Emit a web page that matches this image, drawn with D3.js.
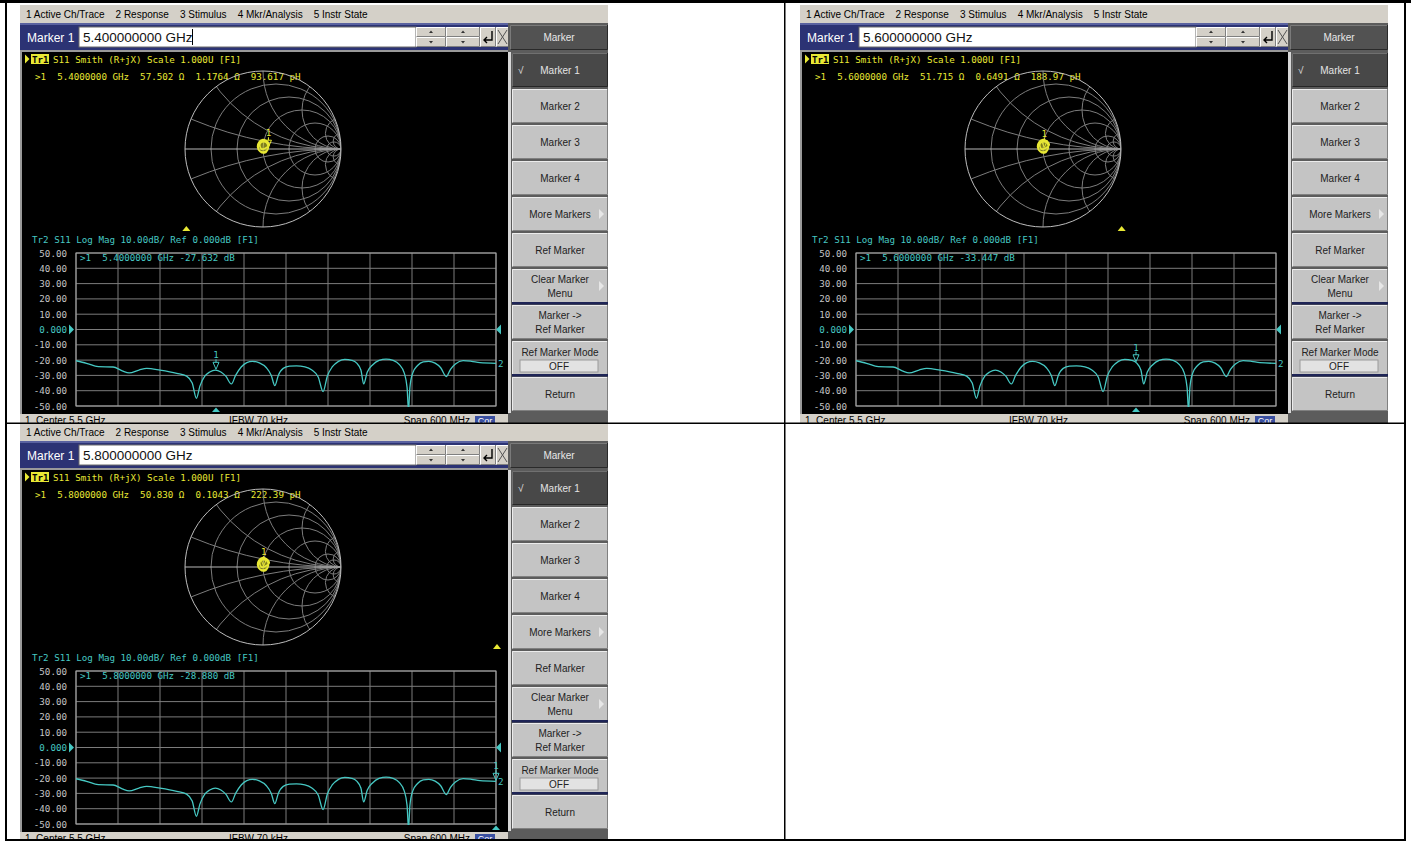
<!DOCTYPE html>
<meta charset="utf-8">
<style>
    body { margin: 0; background: #fff; }
    svg text { font-family: "Liberation Sans", Arial, sans-serif; }
    svg text.mono { font-family: "DejaVu Sans Mono", monospace; font-size: 9.2px; }
</style>
<body>
<svg width="1411" height="841"></svg>
<script src="https://d3js.org/d3.v7.min.js"></script>
<script>
    // ---- data ----
    const menuItems = ["1 Active Ch/Trace", "2 Response", "3 Stimulus", "4 Mkr/Analysis", "5 Instr State"];
    const softkeys = [["Marker 1"], ["Marker 2"], ["Marker 3"], ["Marker 4"], ["More Markers"], ["Ref Marker"],
        ["Clear Marker", "Menu"], ["Marker ->", "Ref Marker"], ["Ref Marker Mode"], ["Return"]];
    const yTicks = [50, 40, 30, 20, 10, 0, -10, -20, -30, -40, -50];

    // S11 log mag trace (same sweep in all three captures)
    const freqGHz = [5.200, 5.215, 5.232, 5.253, 5.266, 5.276, 5.290, 5.301, 5.320, 5.344, 5.358, 5.366, 5.372,
        5.377, 5.384, 5.391, 5.399, 5.407, 5.414, 5.422, 5.428, 5.436, 5.444, 5.452, 5.462, 5.472, 5.479, 5.484,
        5.489, 5.496, 5.505, 5.515, 5.527, 5.537, 5.546, 5.553, 5.559, 5.566, 5.575, 5.584, 5.594, 5.601, 5.607,
        5.611, 5.616, 5.624, 5.633, 5.643, 5.653, 5.662, 5.669, 5.673, 5.675, 5.677, 5.681, 5.688, 5.696, 5.704,
        5.713, 5.721, 5.729, 5.735, 5.742, 5.753, 5.765, 5.777, 5.800];
    const s11dB = [-20.4, -22.1, -24.3, -24.5, -27.0, -28.4, -26.5, -25.4, -26.5, -28.6, -30.5, -35.0, -45.0,
        -37.0, -30.5, -27.8, -26.5, -27.8, -30.5, -35.6, -30.0, -24.5, -21.6, -20.8, -21.8, -25.0, -30.0, -36.7,
        -30.0, -25.4, -24.0, -23.8, -24.4, -26.5, -31.0, -40.6, -30.5, -24.5, -20.8, -19.5, -20.2, -22.0, -26.5,
        -35.6, -28.0, -23.0, -20.2, -19.3, -20.2, -23.0, -28.5, -38.0, -53.0, -38.0, -28.5, -23.5, -21.2, -20.8,
        -22.0, -25.0, -30.8, -26.0, -22.5, -20.3, -20.8, -21.7, -22.1];

    // Smith trace blob near the centre (reflection coefficient, re / im)
    const smithRe = [0.08, 0.05, 0.00, -0.05, -0.07, -0.04, 0.02, 0.06, 0.07, 0.03, -0.03, -0.06, -0.05, 0.00, 0.05, 0.07, 0.05, 0.01, -0.04, -0.02, 0.03];
    const smithIm = [0.05, 0.10, 0.12, 0.09, 0.03, -0.03, -0.05, -0.01, 0.05, 0.09, 0.08, 0.03, -0.02, -0.04, -0.02, 0.03, 0.08, 0.11, 0.06, 0.00, 0.01];

    // one entry per capture
    const markerFreq = [5.4, 5.6, 5.8];
    const markerR = [57.502, 51.715, 50.830];
    const markerX = [1.1764, 0.6491, 0.1043];
    const markerL = [93.617, 188.97, 222.39];
    const markerDB = [-27.632, -33.447, -28.880];

    const panelX = [0, 780, 0],
        panelY = [0, 0, 418];

    const yellow = "#e8e834",
        cyan = "#46c8c3",
        gridCol = "#7c7c7c";

    const svg = d3.select("svg");
    svg.append("rect").attr("width", 1411).attr("height", 841).attr("fill", "#fff");

    const defs = svg.append("defs");
    defs.append("clipPath").attr("id", "cell").append("rect")
        .attr("x", 8).attr("y", 3).attr("width", 612).attr("height", 420);
    defs.append("clipPath").attr("id", "gridclip").append("rect")
        .attr("x", 76).attr("y", 253).attr("width", 421).attr("height", 154);
    defs.append("clipPath").attr("id", "smithclip").append("circle").attr("r", 78);

    const x = d3.scaleLinear().domain([5.2, 5.8]).range([76, 496]);
    const y = d3.scaleLinear().domain([-50, 50]).range([406, 253]);
    const xStim = d3.scaleLinear().domain([5.2, 5.8]).range([31, 497]);
    const gx = d3.scaleLinear().domain([-1, 1]).range([-78, 78]);
    const gy = d3.scaleLinear().domain([-1, 1]).range([78, -78]);
    const fmtL = d3.format(".5");

    function traceAt(f) {
        let i = d3.bisectLeft(freqGHz, f);
        i = Math.max(1, Math.min(freqGHz.length - 1, i));
        const t = (f - freqGHz[i - 1]) / (freqGHz[i] - freqGHz[i - 1]);
        return s11dB[i - 1] + t * (s11dB[i] - s11dB[i - 1]);
    }

    function bevel(g, bx, by, bw, bh, fill, light, dark) {
        g.append("rect").attr("x", bx).attr("y", by).attr("width", bw).attr("height", bh).attr("fill", fill);
        g.append("path").attr("d", `M${bx + 0.5},${by + bh}V${by + 0.5}H${bx + bw}`)
            .attr("stroke", light).attr("fill", "none");
        g.append("path").attr("d", `M${bx + 0.5},${by + bh - 0.5}H${bx + bw - 0.5}V${by}`)
            .attr("stroke", dark).attr("fill", "none");
    }

    function markerSymbol(g, px, py, col) {
        g.append("path")
            .attr("d", `M${px - 3},${py - 8}H${px + 3}L${px},${py - 1}Z M${px},${py - 8}V${py - 11}`)
            .attr("stroke", col).attr("fill", "none").attr("stroke-width", 1);
        g.append("text").attr("class", "mono").attr("x", px).attr("y", py - 12)
            .attr("text-anchor", "middle").attr("fill", col).text("1");
    }

    function drawPanel(i) {
        const p = svg.append("g")
            .attr("transform", `translate(${panelX[i]},${panelY[i]})`)
            .append("g").attr("clip-path", "url(#cell)");

        // menu bar
        p.append("rect").attr("x", 20).attr("y", 5).attr("width", 588).attr("height", 18).attr("fill", "#d4d0c8");
        let mx = 26;
        menuItems.forEach(m => {
            const t = p.append("text").attr("x", mx).attr("y", 17.5).attr("font-size", 10).attr("fill", "#000").text(m);
            mx += t.node().getComputedTextLength() + 11;
        });

        // entry row
        p.append("rect").attr("x", 20).attr("y", 23).attr("width", 490).attr("height", 27).attr("fill", "#2c3374");
        p.append("rect").attr("x", 20).attr("y", 23).attr("width", 490).attr("height", 2).attr("fill", "#5a62a0");
        p.append("text").attr("x", 27).attr("y", 41.5).attr("font-size", 12).attr("fill", "#fff").text("Marker 1");
        p.append("rect").attr("x", 79).attr("y", 27).attr("width", 337).attr("height", 20)
            .attr("fill", "#fff").attr("stroke", "#6a6a6a");
        p.append("text").attr("x", 83).attr("y", 42).attr("font-size", 13.5).attr("fill", "#111")
            .text(markerFreq[i].toFixed(9) + " GHz");
        if (i === 0) {
            p.append("line").attr("x1", 192.5).attr("x2", 192.5).attr("y1", 29).attr("y2", 45).attr("stroke", "#000");
        }
        // spin / enter / cancel buttons
        [[416, 30], [446, 34]].forEach(([bx, bw]) => {
            bevel(p, bx, 27, bw, 10, "#d4d0c8", "#fff", "#808080");
            bevel(p, bx, 37, bw, 10, "#d4d0c8", "#fff", "#808080");
            const c = bx + bw / 2;
            p.append("path").attr("d", `M${c - 2},${33}L${c},${30.5}L${c + 2},${33}Z M${c - 2},${41}L${c},${43.5}L${c + 2},${41}Z`)
                .attr("fill", "#333");
        });
        bevel(p, 480, 27, 16, 20, "#d4d0c8", "#fff", "#808080");
        p.append("path").attr("d", "M492,31V40H484 M487,37L484,40L487,43").attr("stroke", "#000")
            .attr("stroke-width", 1.4).attr("fill", "none");
        bevel(p, 496, 27, 13, 20, "#d4d0c8", "#fff", "#808080");
        p.append("path").attr("d", "M498,30L507,44 M507,30L498,44").attr("stroke", "#555").attr("fill", "none");

        // display
        p.append("rect").attr("x", 20).attr("y", 50).attr("width", 490).attr("height", 364).attr("fill", "#9a9a9a");
        p.append("rect").attr("x", 22).attr("y", 52).attr("width", 486).attr("height", 362).attr("fill", "#000");

        // ---- Tr1 Smith ----
        p.append("path").attr("d", "M25,54.5L29.5,59L25,63.5Z").attr("fill", yellow);
        p.append("rect").attr("x", 31).attr("y", 54).attr("width", 18).attr("height", 10).attr("fill", yellow);
        p.append("text").attr("class", "mono").attr("x", 32).attr("y", 62.5).attr("fill", "#000")
            .attr("font-weight", "bold").text("Tr1");
        p.append("text").attr("class", "mono").attr("x", 53).attr("y", 62.5).attr("fill", yellow)
            .text("S11 Smith (R+jX) Scale 1.000U [F1]");
        p.append("text").attr("class", "mono").attr("x", 35).attr("y", 80).attr("fill", yellow).attr("xml:space", "preserve")
            .text(`>1  ${markerFreq[i].toFixed(7)} GHz  ${markerR[i].toFixed(3)} Ω  ${markerX[i].toFixed(4)} Ω  ${fmtL(markerL[i])} pH`);

        const s = p.append("g").attr("transform", "translate(263,149)");
        const sg = s.append("g").attr("clip-path", "url(#smithclip)")
            .attr("fill", "none").attr("stroke", gridCol).attr("stroke-width", 1);
        [0.2, 0.5, 1, 2, 5, 10].forEach(r => {
            sg.append("circle").attr("cx", gx(r / (1 + r))).attr("cy", 0).attr("r", gx(1 / (1 + r)) - gx(0));
        });
        [0.2, 0.5, 1, 2, 5, 10, -0.2, -0.5, -1, -2, -5, -10].forEach(xv => {
            sg.append("circle").attr("cx", gx(1)).attr("cy", gy(1 / xv)).attr("r", gx(1 / Math.abs(xv)) - gx(0));
        });
        s.append("line").attr("x1", gx(-1)).attr("x2", gx(1)).attr("stroke", "#b8b8b8");
        s.append("circle").attr("r", 78).attr("fill", "none").attr("stroke", "#bdbdbd");

        const blob = d3.line().x(d => gx(d[0])).y(d => gy(d[1])).curve(d3.curveCardinalClosed);
        s.append("path").attr("d", blob(d3.zip(smithRe, smithIm)))
            .attr("fill", "rgba(232,232,52,0.55)").attr("stroke", yellow).attr("stroke-width", 1.6);
        // marker reflection coefficient from R + jX (Z0 = 50)
        const zr = markerR[i] / 50, zi = markerX[i] / 50;
        const den = (zr + 1) * (zr + 1) + zi * zi;
        const gr = ((zr - 1) * (zr + 1) + zi * zi) / den, gi = (2 * zi) / den;
        markerSymbol(s, gx(gr), gy(gi), yellow);

        const tx = xStim(markerFreq[i]);
        p.append("path").attr("d", `M${tx - 4},231L${tx},226L${tx + 4},231Z`).attr("fill", yellow);

        // ---- Tr2 Log Mag ----
        p.append("text").attr("class", "mono").attr("x", 32).attr("y", 243).attr("fill", cyan)
            .text("Tr2 S11 Log Mag 10.00dB/ Ref 0.000dB [F1]");

        const gg = p.append("g").attr("stroke", gridCol).attr("stroke-width", 1);
        gg.selectAll("line.h").data(yTicks).join("line")
            .attr("x1", x(5.2)).attr("x2", x(5.8)).attr("y1", d => y(d)).attr("y2", d => y(d));
        gg.selectAll("line.v").data(d3.range(5.2, 5.8001, 0.06)).join("line")
            .attr("x1", d => x(d)).attr("x2", d => x(d)).attr("y1", y(50)).attr("y2", y(-50));
        p.append("rect").attr("x", x(5.2)).attr("y", y(50)).attr("width", x(5.8) - x(5.2)).attr("height", y(-50) - y(50))
            .attr("fill", "none").attr("stroke", "#a6a6a6");

        p.selectAll("text.yt").data(yTicks).join("text")
            .attr("class", "mono").attr("x", 67).attr("y", d => y(d) + 3.5).attr("text-anchor", "end")
            .attr("fill", d => d === 0 ? cyan : "#c4c4c4")
            .text(d => d === 0 ? "0.000" : d.toFixed(2));
        p.append("path").attr("d", `M69,${y(0) - 5}L74,${y(0)}L69,${y(0) + 5}Z`).attr("fill", cyan);
        p.append("path").attr("d", `M501,${y(0) - 5}L496,${y(0)}L501,${y(0) + 5}Z`).attr("fill", cyan);

        p.append("text").attr("class", "mono").attr("x", 80).attr("y", 260.5).attr("fill", cyan).attr("xml:space", "preserve")
            .text(`>1  ${markerFreq[i].toFixed(7)} GHz ${markerDB[i].toFixed(3)} dB`);

        const line = d3.line().x((d, k) => x(freqGHz[k])).y(d => y(d)).curve(d3.curveMonotoneX);
        p.append("path").attr("d", line(s11dB)).attr("clip-path", "url(#gridclip)")
            .attr("fill", "none").attr("stroke", cyan).attr("stroke-width", 1.3);
        p.append("text").attr("class", "mono").attr("x", 498).attr("y", y(s11dB[s11dB.length - 1]) + 3.5)
            .attr("fill", cyan).text("2");

        const mxp = x(markerFreq[i]);
        markerSymbol(p, mxp, y(traceAt(markerFreq[i])), cyan);
        p.append("path").attr("d", `M${mxp - 4},412L${mxp},407.5L${mxp + 4},412Z`).attr("fill", cyan);

        // status bar (cut off by the capture)
        p.append("rect").attr("x", 20).attr("y", 414).attr("width", 490).attr("height", 10).attr("fill", "#d4d0c8");
        p.append("text").attr("x", 25).attr("y", 424).attr("font-size", 10).attr("xml:space", "preserve").text("1  Center 5.5 GHz");
        p.append("text").attr("x", 229).attr("y", 424).attr("font-size", 10).text("IFBW 70 kHz");
        p.append("text").attr("x", 470).attr("y", 424).attr("font-size", 10).attr("text-anchor", "end").text("Span 600 MHz");
        p.append("rect").attr("x", 475).attr("y", 416).attr("width", 20).attr("height", 8).attr("fill", "#3a4fa0");
        p.append("text").attr("x", 485).attr("y", 424).attr("font-size", 9).attr("text-anchor", "middle").attr("fill", "#fff").text("Cor");

        // ---- softkeys ----
        p.append("rect").attr("x", 508).attr("y", 23).attr("width", 100).attr("height", 400).attr("fill", "#5c5c5c");
        p.append("rect").attr("x", 508).attr("y", 52).attr("width", 3).attr("height", 361).attr("fill", "#d8d8d8");
        bevel(p, 510, 25, 98, 25, "#525252", "#7a7a7a", "#2a2a2a");
        p.append("text").attr("x", 559).attr("y", 41).attr("font-size", 10).attr("text-anchor", "middle")
            .attr("fill", "#e8e8e8").text("Marker");

        softkeys.forEach((lines, k) => {
            const by = 53 + 36 * k, cy = by + 17;
            const dark = k === 0;
            bevel(p, 512, by, 96, 34, dark ? "#484848" : "#c4c4c4", dark ? "#707070" : "#ececec", dark ? "#262626" : "#808080");
            const col = dark ? "#e4e4e4" : "#222";
            const off = k === 8 ? -6 : 0;
            lines.forEach((t, j) => {
                p.append("text").attr("x", 560).attr("y", cy + 3.5 + off + (lines.length === 2 ? (j ? 7 : -7) : 0))
                    .attr("font-size", 10).attr("text-anchor", "middle").attr("fill", col).text(t);
            });
            if (dark) p.append("text").attr("x", 518).attr("y", cy + 4).attr("font-size", 10).attr("fill", col).text("√");
            if (k === 4 || k === 6) {
                p.append("path").attr("d", `M599,${cy - 5}L604,${cy}L599,${cy + 5}Z`).attr("fill", "#e6e6e6");
            }
            if (k === 8) {
                p.append("rect").attr("x", 520).attr("y", cy + 2).attr("width", 78).attr("height", 12)
                    .attr("fill", "#e2e2e2").attr("stroke", "#9a9a9a");
                p.append("text").attr("x", 559).attr("y", cy + 11.5).attr("font-size", 10)
                    .attr("text-anchor", "middle").attr("fill", "#222").text("OFF");
            }
            if (k === 7 || k === 9) {
                p.append("rect").attr("x", 512).attr("y", by - 3).attr("width", 96).attr("height", 2.5).attr("fill", "#1e2456");
            }
        });
    }

    [0, 1, 2].forEach(drawPanel);

    // table borders
    const b = svg.append("g").attr("fill", "#000");
    b.append("rect").attr("x", 0).attr("y", 0).attr("width", 1411).attr("height", 3);
    b.append("rect").attr("x", 5).attr("y", 0).attr("width", 2).attr("height", 841);
    b.append("rect").attr("x", 784).attr("y", 0).attr("width", 1.5).attr("height", 841);
    b.append("rect").attr("x", 5).attr("y", 422.5).attr("width", 1401).attr("height", 1.5);
    b.append("rect").attr("x", 1404).attr("y", 0).attr("width", 2).attr("height", 841);
    b.append("rect").attr("x", 5).attr("y", 839).attr("width", 1401).attr("height", 2);
</script>
</body>
